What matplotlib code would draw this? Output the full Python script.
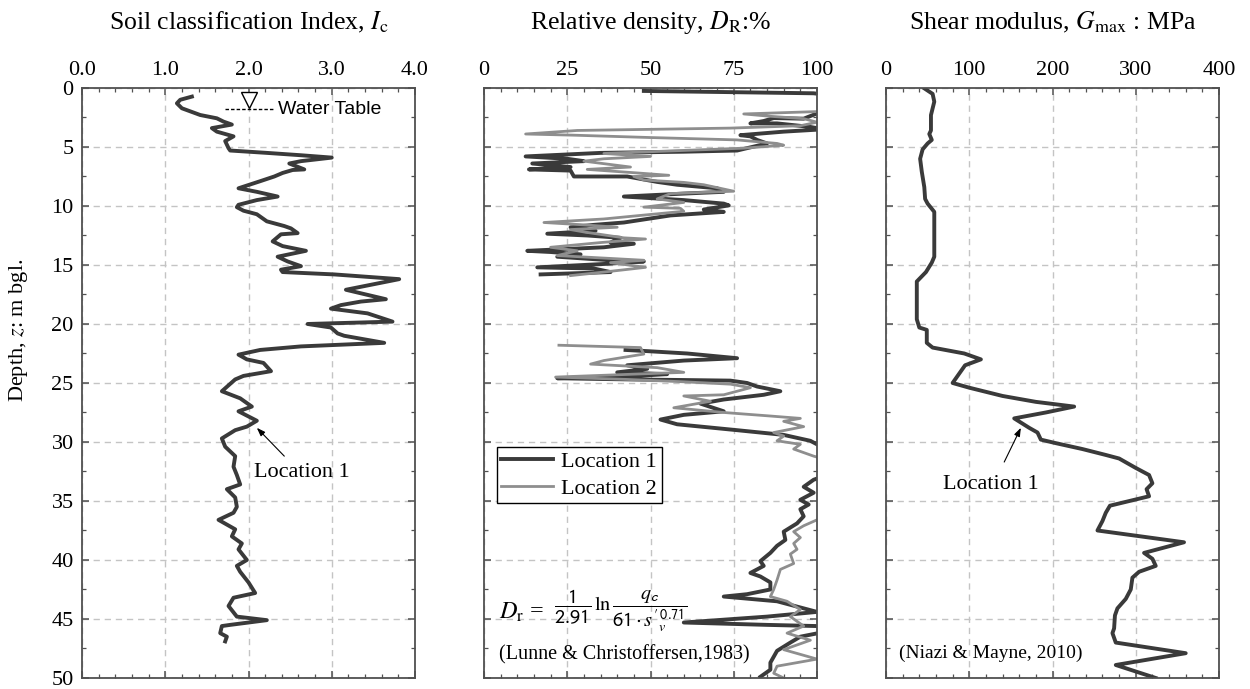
import matplotlib
matplotlib.use("Agg")
import matplotlib.pyplot as plt
from matplotlib.ticker import MultipleLocator

plt.rcParams["font.family"] = ["Liberation Serif", "DejaVu Serif"]
plt.rcParams["mathtext.fontset"] = "stix"

DARK = "#3a3a3a"
GREY = "#8e8e8e"
SPINE = "#505050"
GRID = "#c4c4c4"

# --- soil behaviour type index, Location 1 ---
ic_depth = [0.73, 1.0, 1.3, 1.72, 2.29, 2.57, 2.85, 3.1, 3.4, 3.7, 4.1, 4.5, 5.1, 5.3,
            5.5, 5.7, 5.9, 6.2, 6.4, 6.9, 6.95, 7.2, 7.5, 7.9, 8.5, 8.8, 9.2, 9.5,
            9.9, 10.1, 10.4, 10.7, 11.3, 11.7, 11.9, 12.3, 12.4, 13.0, 13.4, 13.8,
            14.3, 14.7, 15.1, 15.4, 15.6, 15.8, 16.2, 17.1, 17.9, 18.1, 18.4, 18.7,
            19.1, 19.8, 20.0, 20.3, 20.8, 21.0, 21.6, 21.9, 22.2, 22.6, 23.0, 23.3,
            24.0, 24.4, 24.7, 25.7, 26.3, 27.0, 27.4, 28.2, 28.7, 29.0, 29.7, 30.4,
            31.2, 32.1, 32.8, 33.6, 34.0, 34.7, 35.5, 36.0, 36.6, 37.4, 38.0, 38.6,
            39.1, 40.0, 40.5, 41.0, 41.9, 42.8, 43.2, 43.9, 44.8, 45.1, 45.5, 45.6,
            46.2, 46.5, 46.9]
ic_value = [1.32, 1.18, 1.14, 1.20, 1.42, 1.62, 1.70, 1.80, 1.56, 1.62, 1.82, 1.72, 1.76, 1.78,
            2.22, 2.63, 3.00, 2.63, 2.49, 2.67, 2.53, 2.41, 2.31, 2.14, 1.88, 2.10, 2.35, 2.10,
            1.88, 1.86, 1.94, 2.10, 2.22, 2.43, 2.51, 2.59, 2.39, 2.29, 2.41, 2.69,
            2.35, 2.47, 2.63, 2.39, 2.41, 3.03, 3.81, 3.17, 3.65, 3.35, 3.11, 2.99,
            3.43, 3.73, 2.71, 2.99, 3.07, 3.15, 3.63, 2.63, 2.14, 1.88, 1.98, 2.18,
            2.27, 1.94, 1.84, 1.68, 1.90, 2.04, 1.88, 2.10, 1.98, 1.84, 1.68, 1.72,
            1.84, 1.82, 1.86, 1.90, 1.74, 1.84, 1.86, 1.82, 1.64, 1.84, 1.80, 1.92,
            1.88, 1.98, 1.86, 1.90, 2.00, 2.08, 1.82, 1.76, 1.86, 2.22, 1.78, 1.68,
            1.66, 1.74, 1.72]

# --- relative density, Location 1 (upper and lower runs) ---
dr1_depth_a = [0.25, 0.45, 0.7, 1.5, 2.6, 2.55, 2.8, 3.0, 3.0, 3.3, 3.5, 3.7, 4.0, 4.1,
               4.4, 4.7, 5.3, 5.4, 5.5, 5.8, 6.0, 6.2, 6.4, 6.7, 6.9, 7.0, 7.5, 7.5,
               7.96, 8.2, 8.5, 8.8, 8.95, 9.2, 9.5, 9.8, 9.95, 10.3, 10.5, 10.8, 11.1,
               11.4, 11.6, 11.8, 12.1, 12.35, 12.5, 12.7, 13.1, 13.2, 13.5, 13.8, 13.9,
               14.1, 14.3, 14.6, 14.7, 14.9, 15.2, 15.3, 15.6, 15.8]
dr1_value_a = [48, 99, 106, 106, 96, 87, 84, 80, 88, 98, 102, 90, 77, 80,
               82, 85, 76, 60, 35, 12.5, 25, 30, 14.5, 26, 13.5, 26, 27, 43,
               52, 58, 70, 72, 60, 42, 60, 72, 73.5, 66, 72, 56, 49,
               42, 33, 26, 33.5, 19, 31, 41, 38, 45, 36, 13, 20,
               29, 22, 38, 48, 37, 16, 33, 38, 17]
dr1_depth_b = [22.2, 22.3, 22.5, 22.9, 23.1, 23.5, 23.8, 24.1, 24.25, 24.4, 24.6, 24.7,
               24.75, 24.8, 25.0, 25.3, 25.7, 26.0, 26.4, 26.75, 27.4, 27.7, 28.1, 28.5,
               29.0, 29.4, 29.9, 30.2, 31.0, 32.5, 33.2, 33.8, 34.3, 34.9, 35.3, 35.7,
               36.3, 36.9, 37.6, 38.3, 38.8, 39.4, 40.1, 40.5, 41.1, 41.4, 41.9, 42.5,
               42.9, 43.1, 43.5, 44.4, 44.8, 45.3, 45.5, 45.6, 46.0, 46.5, 47.0, 47.7,
               48.7, 49.3, 49.9]
dr1_value_b = [42.5, 49, 61, 76, 60, 43, 49, 40, 55, 46, 22, 44,
               60, 74, 79, 82, 89, 84, 72, 65, 72, 60, 53, 58,
               76, 90, 98, 100, 106, 106, 99, 96, 99, 95, 97.5, 95,
               96, 94, 90, 90.5, 88, 86, 83, 84, 80, 83, 86, 86,
               79, 72, 88, 100, 85, 60, 85, 100, 104, 95, 92, 88,
               86, 86, 83]

# --- relative density, Location 2 ---
dr2_depth_a = [1.8, 2.0, 2.2, 2.4, 2.6, 2.9, 3.2, 3.4, 3.6, 3.9, 4.0, 4.2, 4.4, 4.7,
               4.85, 5.1, 5.55, 5.8, 6.0, 6.2, 6.7, 6.9, 7.2, 7.4, 7.5, 7.8, 8.0, 8.2,
               8.75, 8.95, 9.4, 9.7, 10.1, 10.2, 10.45, 10.8, 11.1, 11.4, 11.6, 11.8,
               12.0, 12.2, 12.7, 12.8, 13.1, 13.5, 13.8, 14.2, 14.6, 14.8, 15.2, 15.6,
               15.9]
dr2_value_a = [105, 100, 78, 86, 96, 100, 95, 74, 28, 12.5, 27, 50, 76, 88,
               90, 78, 36, 50, 36, 30, 44, 31, 46, 55.5, 45, 48, 60, 66,
               75, 56, 52, 60, 48, 59, 60, 47, 36, 18, 30, 40,
               26, 30, 42, 48.5, 35, 20, 28, 22, 48, 38, 48.5, 36,
               26]
dr2_depth_b = [21.8, 22.0, 22.55, 23.1, 23.4, 23.7, 24.1, 24.2, 24.5, 24.7, 24.9, 25.1,
               25.4, 26.0, 26.1, 26.55, 27.1, 27.5, 27.8, 28.0, 28.25, 28.7, 29.2, 29.5,
               29.9, 30.2, 30.6, 31.2, 31.6, 36.0, 36.6, 37.1, 37.6, 38.1, 38.6, 39.1,
               39.5, 40.3, 40.8, 41.7, 42.5, 43.1, 43.5, 44.2, 44.8, 45.6, 46.2, 46.8,
               47.6, 48.4, 49.0, 49.6, 50.0]
dr2_value_b = [22.5, 47, 48, 36, 32, 52, 60, 50, 21.5, 43, 60, 74,
               80, 72, 60, 68, 57, 72, 86, 95, 90, 96, 87, 90,
               88, 95, 93, 99, 104, 104, 100, 96, 93, 95, 93, 94,
               92, 93, 89, 88, 87, 86, 91, 95, 92, 96, 91, 98,
               90, 100, 88, 87, 90]

# --- small-strain shear modulus, Location 1 ---
g_depth = [0.03, 0.5, 1.16, 2.3, 3.6, 3.9, 4.4, 4.7, 5.2, 6.0, 7.1, 8.4, 9.4, 9.8,
           10.5, 14.3, 14.8, 15.6, 16.4, 19.6, 20.3, 20.5, 21.6, 22.0, 22.5, 23.0,
           23.5, 24.1, 25.0, 25.4, 26.1, 26.6, 27.0, 27.5, 28.0, 28.8, 29.2, 29.8,
           30.1, 30.6, 31.1, 31.4, 32.2, 32.8, 33.5, 34.0, 34.6, 35.4, 36.0, 36.7,
           37.5, 38.5, 39.4, 39.9, 40.5, 41.0, 41.5, 42.5, 43.3, 44.1, 44.7, 45.8,
           46.2, 47.0, 47.9, 48.9, 50.0]
g_value = [46, 56, 58, 54, 54, 52, 55, 50, 44, 41, 43, 46, 47, 50,
           58, 58, 55, 48, 37, 37, 40, 49, 49, 56, 94, 114,
           95, 89, 80, 100, 140, 180, 226, 192, 154, 172, 182, 186,
           204, 236, 264, 280, 300, 316, 320, 313, 316, 269, 264, 260,
           254, 358, 310, 320, 324, 304, 296, 294, 288, 278, 275, 274,
           272, 276, 360, 276, 324]

titles = [r"Soil classification Index, $I_\mathrm{c}$",
          r"Relative density, $D_\mathrm{R}$:%",
          r"Shear modulus, $G_\mathrm{max}$ : MPa"]
x_limits = [(0, 4), (0, 100), (0, 400)]
x_major = [1.0, 25, 100]
x_minor = [0.2, 5, 20]
x_formats = ["{:.1f}", "{:.0f}", "{:.0f}"]

fig = plt.figure(figsize=(12.5, 6.89), dpi=100)
lefts = [0.0656, 0.3872, 0.7088]
axes = [fig.add_axes([l, 0.016, 0.2664, 0.8563]) for l in lefts]

for i, ax in enumerate(axes):
    ax.set_xlim(*x_limits[i])
    ax.set_ylim(50, 0)
    ax.xaxis.set_major_locator(MultipleLocator(x_major[i]))
    ax.xaxis.set_minor_locator(MultipleLocator(x_minor[i]))
    ax.yaxis.set_major_locator(MultipleLocator(5))
    ax.yaxis.set_minor_locator(MultipleLocator(2.5))
    ax.xaxis.set_major_formatter(plt.FuncFormatter(lambda v, p, f=x_formats[i]: f.format(v)))
    ax.tick_params(which="both", direction="in", top=True, right=True, bottom=True,
                   left=True, labeltop=True, labelbottom=False, labelleft=(i == 0),
                   color=SPINE, labelsize=16, pad=6)
    ax.tick_params(which="major", length=5, width=1.1)
    ax.tick_params(which="minor", length=3, width=0.9)
    for s in ax.spines.values():
        s.set_color(SPINE)
        s.set_linewidth(1.3)
    ax.grid(True, which="major", color=GRID, linestyle=(0, (4.5, 3.5)), linewidth=1.0)
    ax.set_axisbelow(True)
    fig.text(lefts[i] + 0.1332, 0.968, titles[i], ha="center", va="center", fontsize=18.5)

fig.text(0.0145, 0.52, r"Depth, $z$: m bgl.", rotation=90, ha="center", va="center",
         fontsize=16)

# panel 1: Ic profile
ax1 = axes[0]
ax1.plot(ic_value, ic_depth, color=DARK, lw=2.8, solid_joinstyle="round")
ax1.plot([1.72, 2.31], [1.81, 1.81], color="black", lw=1.0, linestyle=(0, (2.5, 1.5)))
ax1.plot(2.0, 1.05, marker="v", ms=11, mfc="white", mec="black", mew=1.0)
ax1.text(2.35, 1.8, "Water Table", family="Liberation Sans", fontsize=14,
         ha="left", va="center")
ax1.annotate("", xy=(2.10, 28.8), xytext=(2.43, 31.2),
             arrowprops=dict(arrowstyle="-|>,head_length=0.5,head_width=0.18",
                             color="black", lw=0.8, shrinkA=0, shrinkB=0))
ax1.text(2.64, 32.6, "Location 1", ha="center", va="center", fontsize=16)

# panel 2: relative density
ax2 = axes[1]
ax2.plot(dr1_value_a, dr1_depth_a, color=DARK, lw=2.8, label="Location 1")
ax2.plot(dr1_value_b, dr1_depth_b, color=DARK, lw=2.8)
ax2.plot(dr2_value_a, dr2_depth_a, color=GREY, lw=2.0, label="Location 2")
ax2.plot(dr2_value_b, dr2_depth_b, color=GREY, lw=2.0)
leg = ax2.legend(loc="upper left", bbox_to_anchor=(0.039, 0.392), fontsize=16,
                 frameon=True, fancybox=False, edgecolor="black", framealpha=1,
                 borderpad=0.2, handlelength=2.3, handletextpad=0.4, labelspacing=0.3,
                 borderaxespad=0)
leg.get_frame().set_linewidth(1.0)
ax2.text(4.5, 44.4, r"$D_\mathrm{r}$ =", ha="left", va="center", fontsize=17.5)
ax2.text(21.0, 44.3,
         r"$\dfrac{\mathsf{1}}{\mathsf{2.91}}\,\ln\dfrac{\mathit{q}_\mathsf{c}}"
         r"{\mathsf{61}\cdot\mathit{s}'^{\,\mathsf{0.71}}_{\mathit{v}}}$",
         ha="left", va="center", fontsize=14.5)
ax2.text(4.5, 48.0, "(Lunne & Christoffersen,1983)", ha="left", va="center", fontsize=14.5)

# panel 3: shear modulus
ax3 = axes[2]
ax3.plot(g_value, g_depth, color=DARK, lw=2.8, solid_joinstyle="round")
ax3.annotate("", xy=(162, 28.8), xytext=(142, 31.7),
             arrowprops=dict(arrowstyle="-|>,head_length=0.5,head_width=0.18",
                             color="black", lw=0.8, shrinkA=0, shrinkB=0))
ax3.text(126, 33.6, "Location 1", ha="center", va="center", fontsize=16)
ax3.text(16, 47.9, "(Niazi & Mayne, 2010)", ha="left", va="center", fontsize=14)

fig.savefig("out.png", dpi=100)
